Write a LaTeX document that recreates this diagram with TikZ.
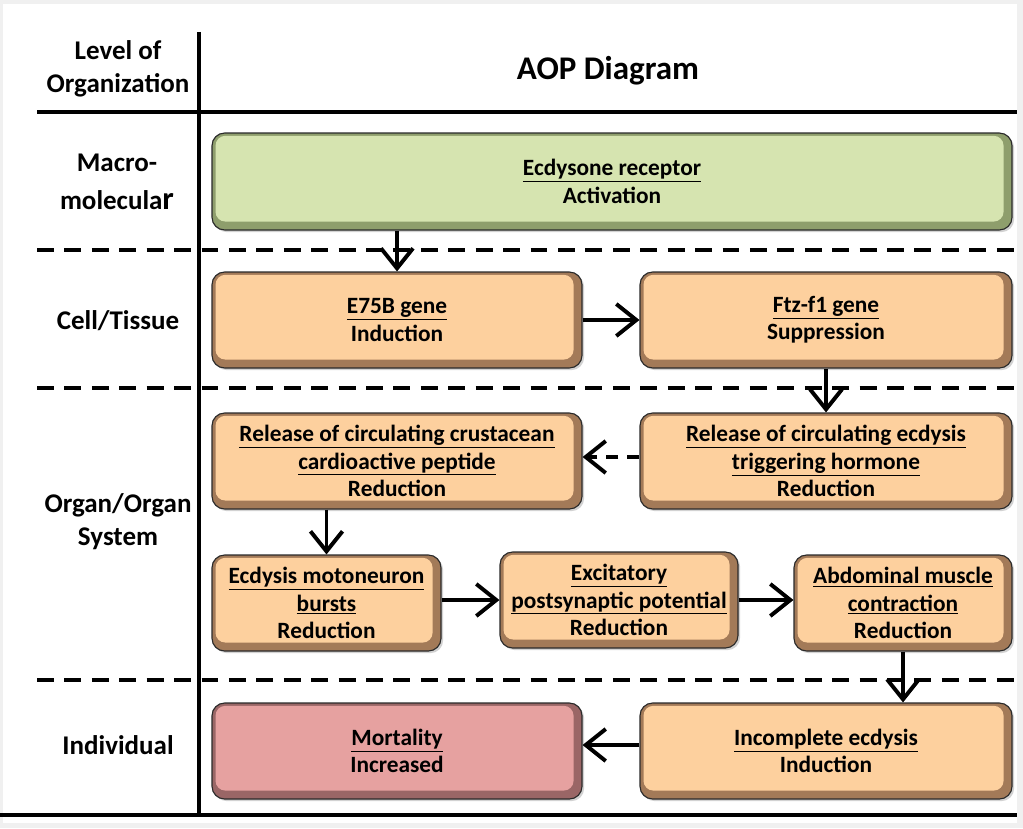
\documentclass[tikz,border=0pt]{standalone}
\usepackage{fontspec}
\setmainfont{Carlito}
\usetikzlibrary{arrows.meta,shadows}
\def\px{0.025cm}
\definecolor{greenfill}{HTML}{D6E4B0}
\definecolor{greendark}{HTML}{8E9E6C}
\definecolor{orangefill}{HTML}{FDD09E}
\definecolor{orangedark}{HTML}{A37A58}
\definecolor{pinkfill}{HTML}{E6A1A0}
\definecolor{pinkdark}{HTML}{9A6666}
\definecolor{bordergray}{HTML}{2A2A2A}
\tikzset{
  aop/.style n args={2}{draw=bordergray, line width=0.8pt, rounded corners=9pt,
    fill=#2, align=center, inner sep=0pt,
    drop shadow={shadow xshift=1.5pt, shadow yshift=-1.5pt, opacity=0.35},
    font=\fontsize{16.6}{19.4}\selectfont\bfseries,
    path picture={\fill[#1, rounded corners=7pt]
      ([xshift=2.5pt,yshift=-2pt]path picture bounding box.north west) rectangle
      ([xshift=-6pt,yshift=6pt]path picture bounding box.south east);}},
  greenbox/.style={aop={greenfill}{greendark}},
  orangebox/.style={aop={orangefill}{orangedark}},
  pinkbox/.style={aop={pinkfill}{pinkdark}},
  lvl/.style={align=center, font=\fontsize{19.2}{23.5}\selectfont\bfseries},
  flow/.style={line width=2.8pt, -{Straight Barb[length=0.5cm,width=0.8cm,line width=2.8pt]}},
  sepsolid/.style={line width=3.4pt},
  sepdash/.style={line width=2.8pt, dash pattern=on 12pt off 7.5pt},
}
\begin{document}
\begin{tikzpicture}[x=0.025cm, y=-0.025cm]
\useasboundingbox (0,0) rectangle (1023,828);
\fill[black!6] (0,0) rectangle (1023,828);
\fill[white] (3,4) rectangle (1017,823);

% grid lines
\draw[sepsolid] (199,32) -- (199,815);
\draw[sepsolid] (37,112) -- (1017,112);
\draw[sepsolid] (0,815) -- (1017,815);
\draw[sepdash] (37,250) -- (1017,250);
\draw[sepdash] (37,388) -- (1017,388);
\draw[sepdash] (37,680) -- (1017,680);

% header
\node[lvl] (hlevel) at (118,69) {Level of\\Organization};
\node[font=\fontsize{23.5}{27}\selectfont\bfseries] (htitle) at (608,71) {AOP Diagram};

% level labels
\node[lvl, font=\fontsize{19.2}{27}\selectfont\bfseries] (lmacro) at (117,182) {Macro-\\molecula{\fontsize{23}{23}\selectfont r}};
\node[lvl] (lcell) at (118,321) {Cell/Tissue};
\node[lvl] (lorgan) at (118,522) {Organ/Organ\\System};
\node[lvl] (lind) at (118,745) {Individual};

% boxes
\node[greenbox, minimum width=800*\px, minimum height=97*\px] (eco) at (612,181.5)
  {\underline{Ecdysone receptor}\\Activation};
\node[orangebox, minimum width=370*\px, minimum height=96*\px] (e75b) at (397,320)
  {\underline{E75B gene}\\Induction};
\node[orangebox, minimum width=372*\px, minimum height=96*\px] (ftz) at (826,320)
  {\underline{Ftz-f1 gene}\\Suppression};
\node[orangebox, minimum width=370*\px, minimum height=96*\px] (cru) at (397,461)
  {\underline{Release of circulating crustacean}\\\underline{cardioactive peptide}\\Reduction};
\node[orangebox, minimum width=372*\px, minimum height=96*\px] (eth) at (826,461)
  {\underline{Release of circulating ecdysis}\\\underline{triggering hormone}\\Reduction};
\node[orangebox, minimum width=229*\px, minimum height=96*\px] (mot) at (326.5,603)
  {\underline{Ecdysis motoneuron}\\\underline{bursts}\\Reduction};
\node[orangebox, minimum width=238*\px, minimum height=96*\px] (exc) at (619,600)
  {\underline{Excitatory}\\\underline{postsynaptic potential}\\Reduction};
\node[orangebox, minimum width=218*\px, minimum height=96*\px] (abd) at (903,603)
  {\underline{Abdominal muscle}\\\underline{contraction}\\Reduction};
\node[pinkbox, minimum width=370*\px, minimum height=96*\px] (mor) at (397,751)
  {\underline{Mortality}\\Increased};
\node[orangebox, minimum width=372*\px, minimum height=96*\px] (inc) at (826,751)
  {\underline{Incomplete ecdysis}\\Induction};

% connectors
\draw[flow] (eco.south -| e75b.north) -- (e75b.north);
\draw[flow] (e75b.east) -- (ftz.west);
\draw[flow] (ftz.south) -- (eth.north);
\draw[flow, dash pattern=on 9pt off 6pt] (eth.west |- 0,457) coordinate (ethw) -- (cru.east |- ethw);
\draw[flow] (cru.south -| mot.north) -- (mot.north);
\draw[flow] (mot.east |- exc.west) -- (exc.west);
\draw[flow] (exc.east) -- (exc.east -| abd.west);
\draw[flow] (abd.south) -- (abd.south |- inc.north);
\draw[flow] (inc.west |- 0,745) coordinate (incw) -- (mor.east |- incw);
\end{tikzpicture}
\end{document}
